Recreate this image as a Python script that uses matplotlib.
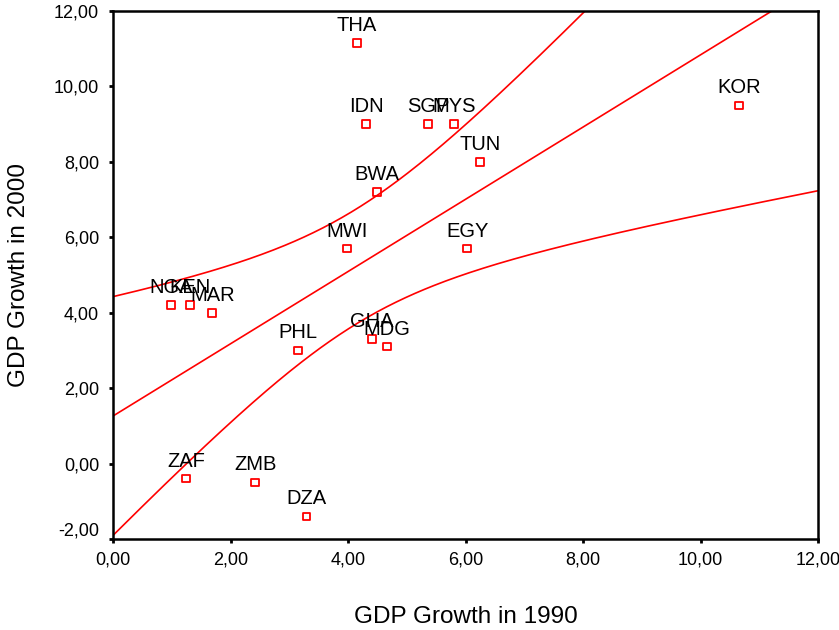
import numpy as np
import matplotlib.pyplot as plt

plt.rcParams['font.family'] = ['Liberation Sans', 'DejaVu Sans']

# 국가 코드와 성장률 (1990, 2000)
countries = ['THA', 'IDN', 'SGP', 'MYS', 'KOR', 'TUN', 'BWA', 'MWI', 'EGY',
             'NGA', 'KEN', 'MAR', 'PHL', 'GHA', 'MDG', 'ZAF', 'ZMB', 'DZA']
gdp_1990 = [4.15, 4.31, 5.36, 5.80, 10.65, 6.25, 4.49, 3.98, 6.03,
            0.99, 1.31, 1.69, 3.15, 4.41, 4.66, 1.24, 2.42, 3.29]
gdp_2000 = [11.15, 9.0, 9.0, 9.0, 9.5, 8.0, 7.2, 5.7, 5.7,
            4.2, 4.2, 4.0, 3.0, 3.3, 3.1, -0.4, -0.5, -1.4]

x = np.array(gdp_1990)
y = np.array(gdp_2000)

# 회귀선과 평균의 95% 신뢰구간
n = len(x)
b1, b0 = np.polyfit(x, y, 1)
resid = y - (b0 + b1 * x)
s = np.sqrt(np.sum(resid ** 2) / (n - 2))
t_crit = 2.12
xs = np.linspace(0, 12, 300)
fit = b0 + b1 * xs
se = s * np.sqrt(1 / n + (xs - x.mean()) ** 2 / np.sum((x - x.mean()) ** 2))

fig = plt.figure(figsize=(8.39, 6.3), dpi=100)
ax = fig.add_axes([0.1347, 0.1444, 0.975 - 0.1347, 0.9825 - 0.1444])

ax.plot(xs, fit, color='red', lw=1.2)
ax.plot(xs, fit + t_crit * se, color='red', lw=1.2)
ax.plot(xs, fit - t_crit * se, color='red', lw=1.2)

ax.scatter(x, y, marker='s', s=30, facecolor='none', edgecolor='red', lw=1.3, zorder=3)
for c, xi, yi in zip(countries, x, y):
    ax.annotate(c, (xi, yi), xytext=(0, 8), textcoords='offset pixels',
                ha='center', va='bottom', fontsize=14.5)

ax.set_xlim(0, 12)
ax.set_ylim(-2, 12)
ax.set_xticks(np.arange(0, 13, 2))
ax.set_yticks(np.arange(-2, 13, 2))
ax.set_xticklabels([f'{v:.2f}'.replace('.', ',') for v in np.arange(0, 13, 2)])
ax.set_yticklabels([f'{v:.2f}'.replace('.', ',') for v in np.arange(-2, 13, 2)])
ax.tick_params(length=3, width=2, labelsize=13)
ax.tick_params(axis='y', pad=7)
ax.tick_params(axis='x', pad=6)
ax.get_yticklabels()[0].set_va('bottom')
for sp in ax.spines.values():
    sp.set_linewidth(1.8)

ax.set_xlabel('GDP Growth in 1990', fontsize=17.5, labelpad=27)
ax.set_ylabel('GDP Growth in 2000', fontsize=17.5, labelpad=17)

fig.savefig('out.png', dpi=100)
